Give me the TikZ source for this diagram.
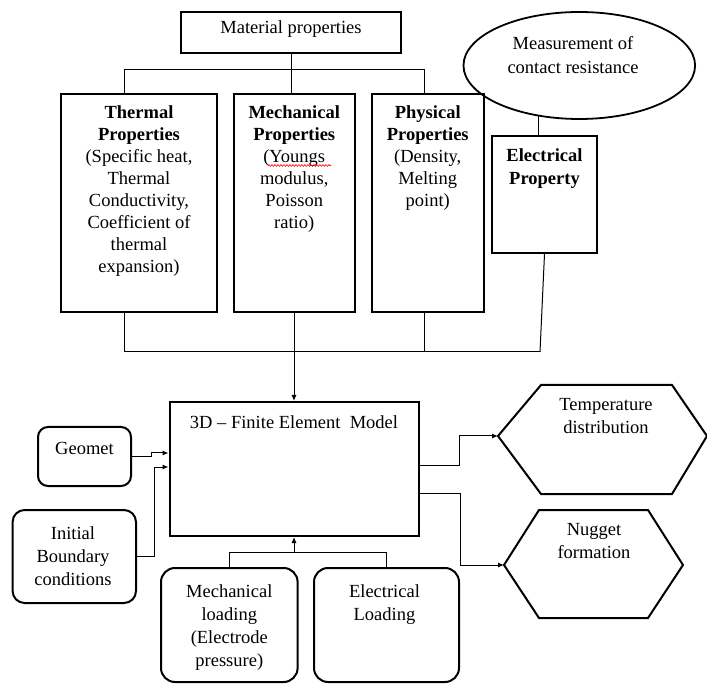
\documentclass[tikz,border=0pt]{standalone}
\usepackage{fontspec}
\setmainfont{Liberation Serif}
\usetikzlibrary{arrows.meta,shapes.geometric,decorations.pathmorphing}
\begin{document}
\begin{tikzpicture}[x=1pt,y=-1pt,
  box/.style={draw,line width=2pt,inner sep=0pt},
  rbox/.style={box,rounded corners=12pt},
  oval/.style={draw,ellipse,line width=1.8pt,inner sep=0pt},
  hexa/.style={draw,line width=2pt,line join=miter},
  txt/.style={align=center,anchor=base,inner sep=0pt,font=\fontsize{18.5}{22}\selectfont},
  txtw/.style={txt,font=\fontsize{18.5}{23}\selectfont},
  conn/.style={line width=1pt},
  arr/.style={conn,-{Latex[length=6pt,width=5pt]}},
  squig/.style={red,line width=0.6pt,decorate,decoration={snake,amplitude=0.9pt,segment length=3pt}}]
\useasboundingbox (0,0) rectangle (707,684);

% top boxes (text nodes anchored at the baseline of their last line)
\node[box,minimum width=220pt,minimum height=41pt] (mat) at (291,32.5) {};
\node[txt] (matT) at (291,34) {Material properties};

\node[box,minimum width=156pt,minimum height=218pt] (thermal) at (139,203) {};
\node[txt] (thermalT) at (139,273) {\textbf{Thermal}\\\textbf{Properties}\\(Specific heat,\\Thermal\\Conductivity,\\Coefficient of\\thermal\\expansion)};

\node[box,minimum width=121.5pt,minimum height=218pt] (mech) at (294.25,203) {};
\node[txt] (mechT) at (294.25,229) {\textbf{Mechanical}\\\textbf{Properties}\\(Youngs\\modulus,\\Poisson\\ratio)};
\draw[squig] (268,165.5) -- (331,165.5);

\node[box,minimum width=112.5pt,minimum height=218pt] (phys) at (427.75,203) {};
\node[txt] (physT) at (427.75,207) {\textbf{Physical}\\\textbf{Properties}\\(Density,\\Melting\\point)};

\node[oval,minimum width=231.6pt,minimum height=107pt] (meas) at (579.3,65.5) {};
\node[txtw,font=\fontsize{18.5}{24}\selectfont] (measT) at (573,74) {Measurement of\\contact resistance};

\node[box,minimum width=105pt,minimum height=117pt] (elec) at (544.5,194.5) {};
\node[txtw] (elecT) at (544.5,185) {\textbf{Electrical}\\\textbf{Property}};

% top connectors
\coordinate (tl) at (124.4,70);
\coordinate (tr) at (424,70);
\draw[conn] (mat.south) -- (mat.south |- tl);
\draw[conn] (tl |- thermal.north) -- (tl) -- (tr) -- (tr |- phys.north);
\draw[conn] (mat.south |- tl) -- (mat.south |- mech.north);
\draw[conn] (meas.231) -- (meas.231 |- elec.north);

% bottom bus
\coordinate (bl) at (124.4,352);
\coordinate (br) at (540,352);
\coordinate (bp) at (424,352);
\draw[conn] (bl |- thermal.south) -- (bl) -- (br);
\draw[conn] (bp |- phys.south) -- (bp);
\draw[conn] (elec.south) -- (br);

% FEM
\node[box,minimum width=249pt,minimum height=134pt] (fem) at (294,469) {};
\node[txt] (femT) at (294,429) {3D -- Finite Element\ \ Model};
\draw[arr] (fem.north |- mech.south) -- (fem.north);

% left inputs
\node[rbox,rounded corners=10pt,minimum width=93pt,minimum height=59pt] (geo) at (84.5,456.5) {};
\node[txt] (geoT) at (84.5,454) {Geomet};
\node[rbox,minimum width=123.4pt,minimum height=93pt] (init) at (74.3,556.5) {};
\node[txtw] (initT) at (73,585) {Initial\\Boundary\\conditions};
\draw[arr] (geo.east) -- (geo.east -| 151,0) |- (fem.west |- 0,453);
\draw[arr] (init.east) -- (init.east -| 154,0) |- (fem.west |- 0,467);

% loadings
\node[rbox,rounded corners=14pt,minimum width=136.6pt,minimum height=114pt] (mload) at (229.3,625) {};
\node[txtw] (mloadT) at (229.3,666) {Mechanical\\loading\\(Electrode\\pressure)};
\node[rbox,rounded corners=14pt,minimum width=145pt,minimum height=114pt] (eload) at (386.5,625) {};
\node[txtw] (eloadT) at (384.5,620) {Electrical\\Loading};
\draw[conn] (mload.north) |- (eload.north |- 0,552) -- (eload.north);
\draw[arr] (fem.south |- 0,552) -- (fem.south);

% outputs
\draw[hexa] (498,436) coordinate (tempL) -- (541,385) -- (672,385) -- (707,436) -- (672,494) -- (541,494) -- cycle;
\node[txtw] (tempT) at (606,434) {Temperature\\distribution};
\draw[hexa] (504,565) coordinate (nugL) -- (539,510) -- (648,510) -- (683,565) -- (648,618) -- (539,618) -- cycle;
\node[txtw] (nugT) at (594,558) {Nugget\\formation};
\draw[arr] (fem.east |- 0,465) -- (459,465) |- (tempL);
\draw[arr] (fem.east |- 0,493) -- (460,493) |- (nugL);
\end{tikzpicture}
\end{document}
